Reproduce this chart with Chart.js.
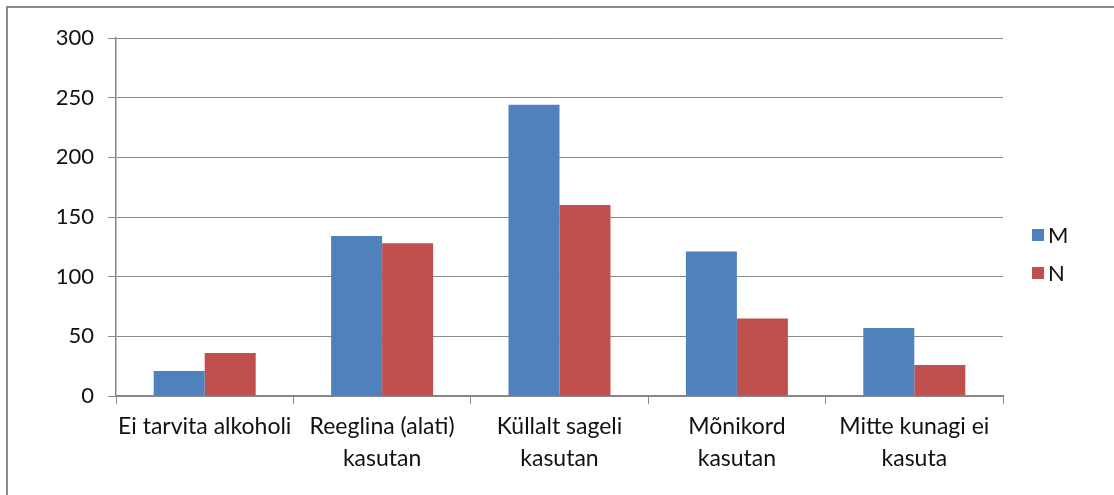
<!DOCTYPE html>
<html>
<head>
<meta charset="utf-8">
<script src="https://cdn.jsdelivr.net/npm/chart.js@4/dist/chart.umd.min.js"></script>
<style>
  html, body { margin: 0; padding: 0; background: #ffffff; }
  #wrap { width: 1114px; height: 495px; position: relative; }
</style>
</head>
<body>
<div id="wrap"><canvas id="c" width="1114" height="495"></canvas></div>
<script>
// Alkoholi tarvitamine soo järgi
const categories = [
  ['Ei tarvita alkoholi'],
  ['Reeglina (alati)', 'kasutan'],
  ['Küllalt sageli', 'kasutan'],
  ['Mõnikord', 'kasutan'],
  ['Mitte kunagi ei', 'kasuta']
];
const seriesNames = ['M', 'N'];
const valuesM = [21, 134, 244, 121, 57];
const valuesN = [36, 128, 160, 65, 26];
const yTicks = [0, 50, 100, 150, 200, 250, 300];

const colors = ['#4F81BD', '#C0504D'];
const FONT = 'Lato, "Liberation Sans", sans-serif';
const gridGray = '#8a8a8a';

// Outer frame of the chart (top and left edges)
const framePlugin = {
  id: 'frame',
  beforeDraw(chart) {
    const ctx = chart.ctx;
    ctx.save();
    ctx.fillStyle = '#ffffff';
    ctx.fillRect(0, 0, chart.width, chart.height);
    ctx.strokeStyle = '#8c8c8c';
    ctx.lineWidth = 2;
    ctx.beginPath();
    ctx.moveTo(7, chart.height + 2);
    ctx.lineTo(7, 7);
    ctx.lineTo(chart.width + 2, 7);
    ctx.stroke();
    ctx.restore();
  }
};

// Legend on the right, built from the datasets
const sideLegend = {
  id: 'sideLegend',
  afterDraw(chart) {
    const ctx = chart.ctx;
    const x0 = 1032, y0 = 235, step = 38, box = 12;
    ctx.save();
    ctx.font = '22px ' + FONT;
    ctx.textBaseline = 'middle';
    ctx.textAlign = 'left';
    chart.data.datasets.forEach((ds, i) => {
      const y = y0 + i * step;
      ctx.fillStyle = ds.backgroundColor;
      ctx.fillRect(x0, y - box / 2, box, box);
      ctx.fillStyle = '#111111';
      ctx.fillText(ds.label, x0 + box + 4, y + 1);
    });
    ctx.restore();
  }
};

new Chart(document.getElementById('c'), {
  type: 'bar',
  data: {
    labels: categories,
    datasets: [
      { label: seriesNames[0], data: valuesM, backgroundColor: colors[0] },
      { label: seriesNames[1], data: valuesN, backgroundColor: colors[1] }
    ]
  },
  options: {
    responsive: false,
    animation: false,
    devicePixelRatio: 1,
    layout: { padding: { left: 0, top: 38, right: 111, bottom: 0 } },
    datasets: {
      bar: { categoryPercentage: 0.575, barPercentage: 1.0, borderWidth: 0 }
    },
    plugins: {
      legend: { display: false },
      tooltip: { enabled: false }
    },
    scales: {
      x: {
        grid: {
          display: true,
          drawOnChartArea: false,
          drawTicks: true,
          tickLength: 8,
          color: gridGray,
          offset: true
        },
        border: { display: true, color: '#868686', width: 2 },
        ticks: {
          color: '#111111',
          font: { family: FONT, size: 23, lineHeight: 1.38 },
          padding: 7,
          maxRotation: 0,
          autoSkip: false
        },
        afterFit(scale) { scale.height = 99; }
      },
      y: {
        min: 0,
        max: 300,
        afterBuildTicks(scale) { scale.ticks = yTicks.map(v => ({ value: v })); },
        grid: {
          color: gridGray,
          lineWidth: 1,
          drawTicks: true,
          tickLength: 8
        },
        border: { display: true, color: '#868686', width: 1.5 },
        ticks: {
          color: '#111111',
          font: { family: FONT, size: 22 },
          padding: 14
        },
        afterFit(scale) { scale.width = 116; }
      }
    }
  },
  plugins: [framePlugin, sideLegend]
});
</script>
</body>
</html>
